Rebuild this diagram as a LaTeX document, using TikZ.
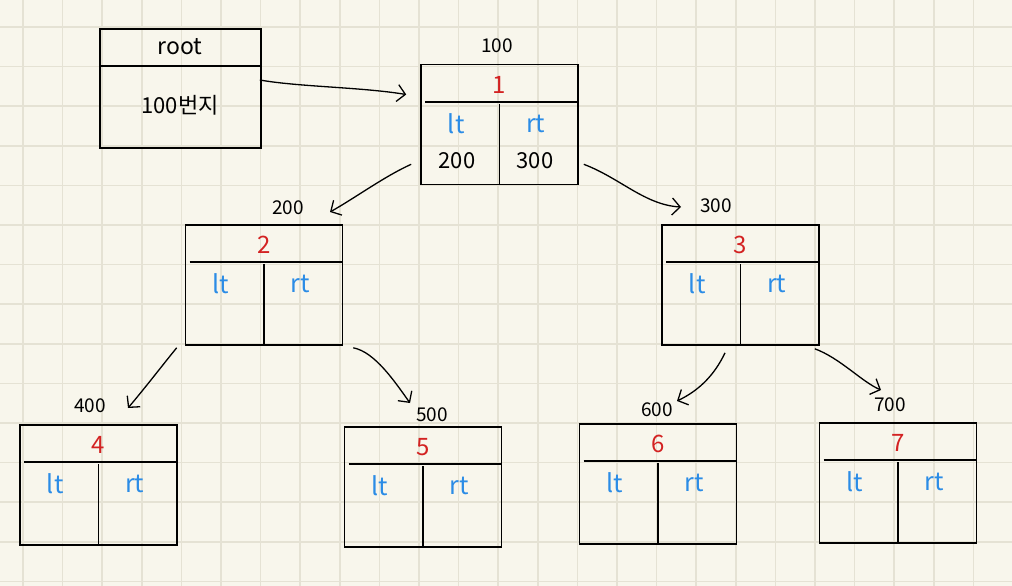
\documentclass[tikz,border=0pt]{standalone}
\usepackage{fontspec}
\setmainfont{Noto Sans CJK KR}
\usetikzlibrary{arrows.meta}

\definecolor{paper}{HTML}{F8F6EC}
\definecolor{gridline}{HTML}{E5E2D4}
\definecolor{keyred}{HTML}{D32222}
\definecolor{fieldblue}{HTML}{2B8CE6}

\tikzset{
  cell/.style={draw, line width=1.6pt, minimum width=157pt, minimum height=120pt, inner sep=0pt},
  addr/.style={font=\fontsize{19}{19}\selectfont},
  keytext/.style={text=keyred, font=\fontsize{24}{24}\selectfont},
  field/.style={text=fieldblue, font=\fontsize{25}{25}\selectfont},
  val/.style={font=\fontsize{22}{22}\selectfont},
  link/.style={-{Straight Barb[length=8pt,width=17pt]}, line width=1.3pt},
}

% one tree node: name, position, key
\newcommand{\memnode}[3]{%
  \node[cell] (#1) at (#2) {};
  \draw[line width=1.6pt] ([xshift=5pt,yshift=-38pt]#1.north west) -- ([yshift=-38pt]#1.north east);
  \draw[line width=1.6pt] ([yshift=-40pt]#1.north) -- (#1.south);
  \node[keytext] (#1-key) at ([yshift=-21pt]#1.north) {#3};
  \node[field] (#1-lt) at ([xshift=36pt,yshift=-60pt]#1.north west) {lt};
  \node[field] (#1-rt) at ([xshift=-43pt,yshift=-60pt]#1.north east) {rt};
}

\begin{document}
\begin{tikzpicture}[x=1pt,y=-1pt]
\useasboundingbox (0,0) rectangle (1012,586);
\fill[paper] (0,0) rectangle (1012,586);
\foreach \i in {0,...,25}
  \draw[gridline, line width=1.5pt] (23+39.6*\i,0) -- ++(0,586);
\foreach \j in {0,...,14}
  \draw[gridline, line width=1.5pt] (0,27+39.6*\j) -- ++(1012,0);

% root pointer
\node[cell, minimum width=161pt, minimum height=119pt] (root) at (180.5,88.5) {};
\draw[line width=1.6pt] ([yshift=-38pt]root.north west) -- ([yshift=-38pt]root.north east);
\node[font=\fontsize{23}{23}\selectfont] (rootname) at (180,47) {root};
\node[val] (rootval) at (180,105) {100번지};

% tree nodes
\memnode{n1}{499.5,124.5}{1}
\memnode{n2}{264,285}{2}
\memnode{n3}{740.5,285}{3}
\memnode{n4}{98.5,485}{4}
\memnode{n5}{423,487}{5}
\memnode{n6}{658,484}{6}
\memnode{n7}{898,483}{7}
\node[val] (n1-lv) at (457,161) {200};
\node[val] (n1-rv) at (535,161) {300};

% addresses
\node[addr] (a100) at (497,46) {100};
\node[addr] (a200) at (288,208) {200};
\node[addr] (a300) at (716,206) {300};
\node[addr] (a400) at (90,406) {400};
\node[addr] (a500) at (432,415) {500};
\node[addr] (a600) at (657,410) {600};
\node[addr] (a700) at (890,405) {700};

% links
\draw[link] ([xshift=-2pt,yshift=8.5pt]root.east) .. controls (300,87) and (360,87) .. ([xshift=-14pt,yshift=30pt]n1.west);
\draw[link] ([xshift=-9pt,yshift=21pt]n1.south west) .. controls (385,176) and (355,198) .. ([xshift=42pt,yshift=-4pt]a200.center);
\draw[link] ([xshift=5pt,yshift=21pt]n1.south east) .. controls (620,178) and (645,205) .. ([xshift=-35pt,yshift=-1pt]a300.center);
\draw[link] ([xshift=-8pt,yshift=-2pt]n2.south west) .. controls (165,362) and (145,388) .. ([xshift=38pt,yshift=-2pt]a400.center);
\draw[link] ([xshift=10pt,yshift=-2pt]n2.south east) .. controls (375,352) and (395,382) .. ([xshift=-22pt,yshift=12pt]a500.center);
\draw[link] ([xshift=-15.5pt,yshift=-7pt]n3.south) .. controls (715,374) and (700,390) .. ([xshift=20pt,yshift=9pt]a600.center);
\draw[link] ([xshift=-5pt,yshift=-3pt]n3.south east) .. controls (840,358) and (862,382) .. ([xshift=-9pt,yshift=15pt]a700.center);
\end{tikzpicture}
\end{document}
